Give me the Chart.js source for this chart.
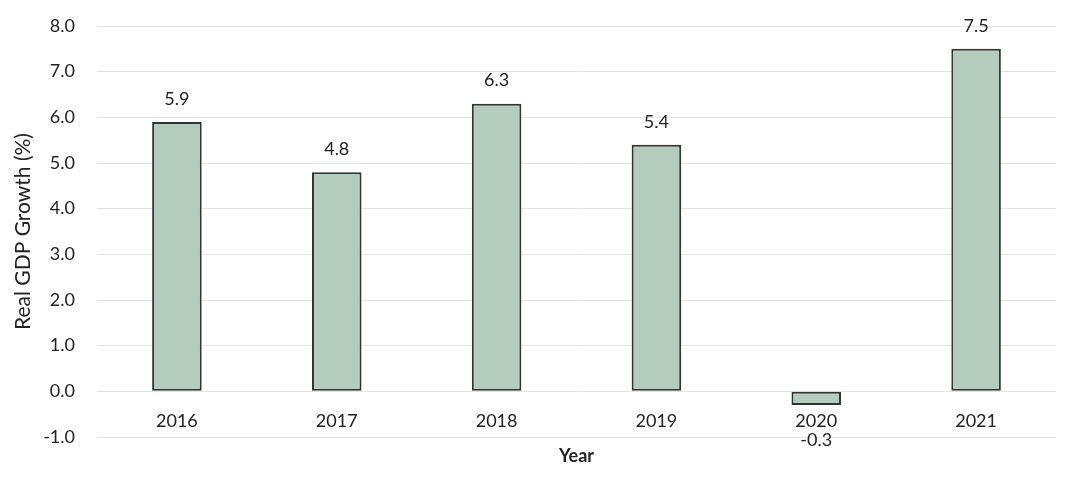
<!DOCTYPE html>
<html>
<head>
<meta charset="utf-8">
<title>Real GDP Growth</title>
<script src="https://cdn.jsdelivr.net/npm/chart.js@4/dist/chart.umd.min.js"></script>
<style>
  html, body { margin: 0; padding: 0; background: #fff; }
  #wrap { width: 1086px; height: 477px; position: relative; }
</style>
</head>
<body>
<div id="wrap"><canvas id="gdpChart"></canvas></div>
<script>
// values
const years = ["2016", "2017", "2018", "2019", "2020", "2021"];
const growth = [5.9, 4.8, 6.3, 5.4, -0.3, 7.5];
const yMin = -1, yMax = 8, yStep = 1;

const FONT = "Lato, 'Open Sans', 'Liberation Sans', sans-serif";
const INK = "#222";

// value labels: above the bar, or under the category label for a negative bar
const barValues = {
  id: "barValues",
  afterDatasetsDraw(chart) {
    const ctx = chart.ctx;
    const meta = chart.getDatasetMeta(0);
    ctx.save();
    ctx.font = "18px " + FONT;
    ctx.fillStyle = INK;
    ctx.textAlign = "center";
    ctx.textBaseline = "middle";
    meta.data.forEach((bar, i) => {
      const v = growth[i];
      const txt = v.toFixed(1);
      if (v >= 0) ctx.fillText(txt, bar.x, bar.y - 23);
      else ctx.fillText(txt, bar.x, bar.y + 35);
    });
    ctx.restore();
  }
};

new Chart(document.getElementById("gdpChart"), {
  type: "bar",
  data: {
    labels: years,
    datasets: [{
      label: "Real GDP Growth (%)",
      data: growth,
      backgroundColor: "#b4ccbe",
      borderColor: "#2e3632",
      borderWidth: 2,
      borderSkipped: false,
      categoryPercentage: 1,
      barPercentage: 0.31
    }]
  },
  options: {
    responsive: true,
    maintainAspectRatio: false,
    animation: false,
    layout: { padding: { left: 11, right: 30, top: 26, bottom: 40 } },
    plugins: {
      legend: { display: false },
      tooltip: { enabled: false }
    },
    scales: {
      x: {
        position: { y: 0 },
        grid: { display: false, drawTicks: false },
        border: { display: false },
        ticks: { color: INK, font: { family: FONT, size: 18 }, padding: 19 },
        title: { display: true, text: "Year", color: INK, font: { family: FONT, size: 18, weight: "bold" }, padding: { top: -6, bottom: 0 } }
      },
      y: {
        min: yMin, max: yMax,
        afterFit: s => { s.width = 86; },
        grid: { color: "#e4e4e4", lineWidth: 1, drawTicks: true, tickLength: 14, tickColor: "rgba(0,0,0,0)" },
        border: { display: false },
        ticks: { stepSize: yStep, color: INK, font: { family: FONT, size: 18 }, padding: 8, callback: v => Number(v).toFixed(1) },
        title: { display: true, text: "Real GDP Growth (%)", color: INK, font: { family: FONT, size: 21 }, padding: { top: 0, bottom: 2 } }
      }
    }
  },
  plugins: [barValues]
});
</script>
</body>
</html>
